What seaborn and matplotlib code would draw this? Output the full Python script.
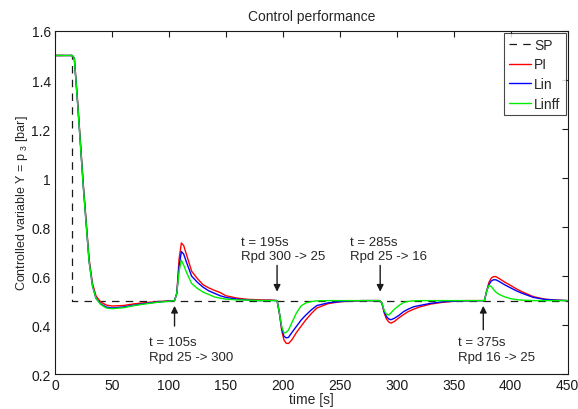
import numpy as np
import pandas as pd
import matplotlib
matplotlib.use("Agg")
import matplotlib.pyplot as plt
import seaborn as sns

# set point step
sp_t = [0, 15, 15, 450]
sp_y = [1.5, 1.5, 0.5, 0.5]

# shared time base for the three controllers
t = [0, 15, 17, 20, 25, 30, 33, 36, 40, 45, 50, 60, 70, 80, 90, 100, 105,
     107, 109, 111, 113, 116, 120, 125, 130, 135, 140, 145, 150, 160, 170, 180, 190, 195,
     197, 199, 201, 203, 205, 208, 212, 216, 220, 225, 230, 240, 250, 260, 270, 285,
     287, 289, 291, 293, 295, 298, 302, 306, 310, 315, 320, 330, 340, 350, 360, 377,
     379, 381, 383, 385, 387, 390, 395, 400, 405, 410, 420, 430, 440, 450]

pi = [1.5, 1.5, 1.49, 1.31, 0.97, 0.67, 0.57, 0.52, 0.495, 0.482, 0.478, 0.48, 0.487, 0.492, 0.496, 0.499, 0.5,
      0.53, 0.67, 0.735, 0.725, 0.68, 0.62, 0.59, 0.565, 0.552, 0.542, 0.533, 0.52, 0.51, 0.505, 0.503, 0.502, 0.5,
      0.45, 0.38, 0.34, 0.326, 0.325, 0.34, 0.37, 0.395, 0.42, 0.447, 0.47, 0.488, 0.495, 0.498, 0.5, 0.5,
      0.49, 0.45, 0.425, 0.413, 0.408, 0.415, 0.43, 0.443, 0.455, 0.465, 0.474, 0.486, 0.493, 0.497, 0.5, 0.5,
      0.54, 0.575, 0.592, 0.598, 0.598, 0.59, 0.575, 0.562, 0.548, 0.536, 0.516, 0.506, 0.502, 0.5]

lin = [1.5, 1.5, 1.49, 1.30, 0.96, 0.66, 0.56, 0.51, 0.487, 0.474, 0.47, 0.474, 0.482, 0.489, 0.494, 0.498, 0.5,
       0.53, 0.64, 0.70, 0.69, 0.65, 0.60, 0.575, 0.555, 0.54, 0.53, 0.52, 0.513, 0.506, 0.502, 0.5, 0.501, 0.5,
       0.45, 0.39, 0.355, 0.348, 0.35, 0.37, 0.395, 0.42, 0.44, 0.462, 0.48, 0.491, 0.496, 0.499, 0.5, 0.5,
       0.49, 0.455, 0.435, 0.425, 0.422, 0.428, 0.44, 0.455, 0.465, 0.475, 0.48, 0.489, 0.495, 0.498, 0.499, 0.5,
       0.54, 0.565, 0.58, 0.585, 0.585, 0.578, 0.564, 0.552, 0.54, 0.53, 0.513, 0.505, 0.502, 0.5]

linff = [1.5, 1.5, 1.49, 1.30, 0.96, 0.66, 0.56, 0.51, 0.485, 0.47, 0.467, 0.471, 0.48, 0.487, 0.493, 0.497, 0.5,
         0.53, 0.62, 0.665, 0.645, 0.61, 0.57, 0.55, 0.535, 0.525, 0.515, 0.51, 0.506, 0.503, 0.502, 0.5, 0.5, 0.5,
         0.45, 0.395, 0.368, 0.37, 0.38, 0.41, 0.45, 0.478, 0.49, 0.496, 0.499, 0.5, 0.5, 0.5, 0.5, 0.5,
         0.49, 0.46, 0.445, 0.441, 0.45, 0.465, 0.48, 0.492, 0.497, 0.499, 0.5, 0.5, 0.5, 0.5, 0.5, 0.5,
         0.54, 0.562, 0.558, 0.545, 0.535, 0.525, 0.515, 0.508, 0.504, 0.502, 0.5, 0.5, 0.5, 0.5]

# annotations: (label, arrow x, arrow tail y, arrow head y, text x, text y)
notes = [("t = 105s\nRpd 25 -> 300", 105, 0.385, 0.49, 83, 0.30),
         ("t = 195s\nRpd 300 -> 25", 195, 0.655, 0.525, 163, 0.71),
         ("t = 285s\nRpd 25 -> 16", 285.5, 0.655, 0.525, 259, 0.71),
         ("t = 375s\nRpd 16 -> 25", 376, 0.37, 0.49, 354, 0.30)]

sns.set_theme(style="white")
plt.rcParams["font.family"] = ["Liberation Sans", "DejaVu Sans"]
plt.rcParams["mathtext.fontset"] = "custom"
plt.rcParams["mathtext.rm"] = "Liberation Sans"

fig = plt.figure(figsize=(5.78, 4.10), dpi=100)
ax = fig.add_axes([0.095, 0.085, 0.887, 0.837])

sns.lineplot(x=sp_t, y=sp_y, ax=ax, color="k", lw=0.9, linestyle=(0, (6, 5)),
             sort=False, estimator=None, label="SP")
sns.lineplot(x=t, y=pi, ax=ax, color="red", lw=1.0, sort=False, estimator=None, label="PI")
sns.lineplot(x=t, y=lin, ax=ax, color="blue", lw=1.0, sort=False, estimator=None, label="Lin")
sns.lineplot(x=t, y=linff, ax=ax, color="#00ee00", lw=1.0, sort=False, estimator=None, label="Linff")

for txt, ax_x, y0, y1, tx, ty in notes:
    ax.annotate("", xy=(ax_x, y1), xytext=(ax_x, y0),
                arrowprops=dict(arrowstyle="-|>", color="k", lw=1.0, mutation_scale=10))
    ax.text(tx, ty, txt, fontsize=9.5, ha="left", va="center", linespacing=1.3)

ax.set_xlim(0, 450)
ax.set_ylim(0.2, 1.6)
ax.set_xticks(np.arange(0, 451, 50))
yt = [0.2, 0.4, 0.6, 0.8, 1.0, 1.2, 1.4, 1.6]
ax.set_yticks(yt)
ax.set_yticklabels([f"{v:g}" for v in yt])
ax.tick_params(direction="in", length=4, width=0.8, top=True, right=True,
               labelsize=10, colors="k", pad=3)
for s in ax.spines.values():
    s.set_color("k")
    s.set_linewidth(0.8)

ax.set_title("Control performance", fontsize=10, pad=8)
ax.set_xlabel("time [s]", fontsize=10, labelpad=0)
ax.set_ylabel(r"Controlled variable Y = p $_\mathrm{3}$ [bar]", fontsize=9, labelpad=1)

leg = ax.legend(loc="upper right", fontsize=10, frameon=True, fancybox=False,
                handlelength=1.6, handletextpad=0.2, borderpad=0.35, labelspacing=0.4,
                borderaxespad=0.15)
leg.get_frame().set_edgecolor("k")
leg.get_frame().set_linewidth(0.8)

fig.savefig("out.png", dpi=100)
